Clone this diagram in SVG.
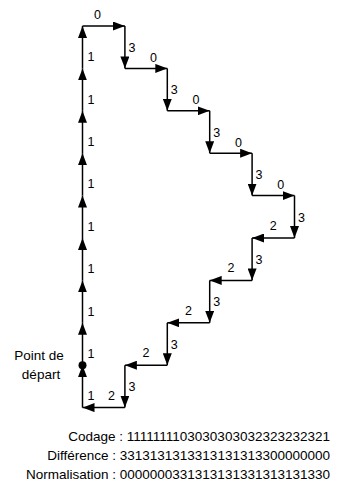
<svg xmlns="http://www.w3.org/2000/svg" width="344" height="491" viewBox="0 0 344 491">
<defs>
<marker id="ah" markerUnits="userSpaceOnUse" markerWidth="12" markerHeight="9" refX="12" refY="4.5" orient="auto">
<path d="M0,0 L12,4.5 L0,9 z" fill="#000"/>
</marker>
<style>
.c{stroke:#000;stroke-width:1.5;fill:none;marker-end:url(#ah)}
.l{font-family:"Liberation Sans",Arial,sans-serif;font-size:12.5px;fill:#000}
.m{text-anchor:middle}
.t{font-family:"Liberation Sans",Arial,sans-serif;font-size:13.5px;fill:#000}
</style>
</defs>
<rect width="344" height="491" fill="#fff"/>
<g id="connectors">
<line class="c" x1="82.5" y1="365.2" x2="82.5" y2="322.8"/>
<line class="c" x1="82.5" y1="322.8" x2="82.5" y2="280.4"/>
<line class="c" x1="82.5" y1="280.4" x2="82.5" y2="238"/>
<line class="c" x1="82.5" y1="238" x2="82.5" y2="195.6"/>
<line class="c" x1="82.5" y1="195.6" x2="82.5" y2="153.2"/>
<line class="c" x1="82.5" y1="153.2" x2="82.5" y2="110.8"/>
<line class="c" x1="82.5" y1="110.8" x2="82.5" y2="68.4"/>
<line class="c" x1="82.5" y1="68.4" x2="82.5" y2="26"/>
<line class="c" x1="82.5" y1="26" x2="124.9" y2="26"/>
<line class="c" x1="124.9" y1="26" x2="124.9" y2="68.4"/>
<line class="c" x1="124.9" y1="68.4" x2="167.3" y2="68.4"/>
<line class="c" x1="167.3" y1="68.4" x2="167.3" y2="110.8"/>
<line class="c" x1="167.3" y1="110.8" x2="209.7" y2="110.8"/>
<line class="c" x1="209.7" y1="110.8" x2="209.7" y2="153.2"/>
<line class="c" x1="209.7" y1="153.2" x2="252.1" y2="153.2"/>
<line class="c" x1="252.1" y1="153.2" x2="252.1" y2="195.6"/>
<line class="c" x1="252.1" y1="195.6" x2="294.5" y2="195.6"/>
<line class="c" x1="294.5" y1="195.6" x2="294.5" y2="238"/>
<line class="c" x1="294.5" y1="238" x2="252.1" y2="238"/>
<line class="c" x1="252.1" y1="238" x2="252.1" y2="280.4"/>
<line class="c" x1="252.1" y1="280.4" x2="209.7" y2="280.4"/>
<line class="c" x1="209.7" y1="280.4" x2="209.7" y2="322.8"/>
<line class="c" x1="209.7" y1="322.8" x2="167.3" y2="322.8"/>
<line class="c" x1="167.3" y1="322.8" x2="167.3" y2="365.2"/>
<line class="c" x1="167.3" y1="365.2" x2="124.9" y2="365.2"/>
<line class="c" x1="124.9" y1="365.2" x2="124.9" y2="407.6"/>
<line class="c" x1="124.9" y1="407.6" x2="82.5" y2="407.6"/>
<line class="c" x1="82.5" y1="407.6" x2="82.5" y2="365.2"/>
</g>
<g id="start">
<circle cx="82.5" cy="365.2" r="4" fill="#000"/>
<text class="t m" x="39" y="360">Point de</text>
<text class="t m" x="41" y="379">départ</text>
</g>
<g id="labels">
<text class="l" x="87.5" y="61">1</text>
<text class="l" x="87.5" y="103.6">1</text>
<text class="l" x="87.5" y="146">1</text>
<text class="l" x="87.5" y="188.4">1</text>
<text class="l" x="87.5" y="230.8">1</text>
<text class="l" x="87.5" y="273.2">1</text>
<text class="l" x="87.5" y="315.6">1</text>
<text class="l" x="87.5" y="358">1</text>
<text class="l" x="87.5" y="400.4">1</text>
<text class="l m" x="97.5" y="19">0</text>
<text class="l m" x="153.5" y="62">0</text>
<text class="l m" x="196" y="104.3">0</text>
<text class="l m" x="238.4" y="146.7">0</text>
<text class="l m" x="280.8" y="189.1">0</text>
<text class="l" x="128.4" y="52">3</text>
<text class="l" x="170.8" y="94.4">3</text>
<text class="l" x="213.2" y="136.8">3</text>
<text class="l" x="255.6" y="179.2">3</text>
<text class="l" x="298" y="221.6">3</text>
<text class="l" x="255.6" y="264">3</text>
<text class="l" x="213.2" y="306.4">3</text>
<text class="l" x="170.8" y="348.8">3</text>
<text class="l" x="128.4" y="391.2">3</text>
<text class="l m" x="273.3" y="230">2</text>
<text class="l m" x="230.9" y="272.4">2</text>
<text class="l m" x="188.5" y="314.8">2</text>
<text class="l m" x="146.1" y="357.2">2</text>
<text class="l m" x="111.5" y="400">2</text>
</g>
<g id="caption">
<text class="t" x="330" y="441" text-anchor="end">Codage : 1111111103030303032323232321</text>
<text class="t" x="330" y="460" text-anchor="end">Différence : 3313131313313131313300000000</text>
<text class="t" x="330" y="479" text-anchor="end">Normalisation : 0000000331313131331313131330</text>
</g>
</svg>
